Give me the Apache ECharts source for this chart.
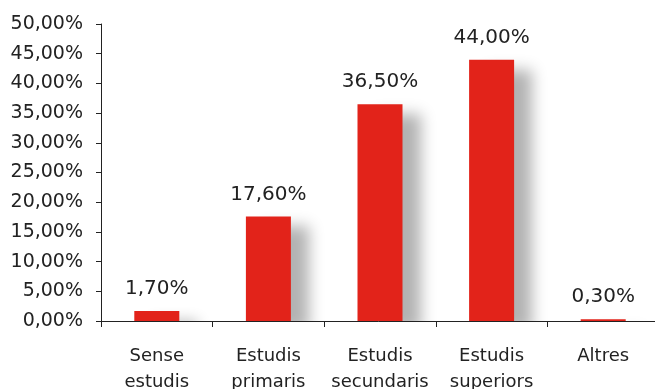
<!DOCTYPE html>
<html>
<head>
<meta charset="utf-8">
<script src="https://cdn.jsdelivr.net/npm/echarts@6/dist/echarts.min.js"></script>
<style>
  html, body { margin: 0; padding: 0; background: #fff; overflow: hidden; }
  #chart { width: 655px; height: 389px; }
</style>
</head>
<body>
<div id="chart"></div>
<script>
// Education level shares
const categories = ['Sense\nestudis', 'Estudis\nprimaris', 'Estudis\nsecundaris', 'Estudis\nsuperiors', 'Altres'];
const values = [1.7, 17.6, 36.5, 44.0, 0.3];
const yMin = 0, yMax = 50, yStep = 5;

const fmt = v => v.toFixed(2).replace('.', ',') + '%';
const font = '"DejaVu Sans", "Noto Sans", sans-serif';

const W = 655, H = 389;
const gridTop = 24, gridBottom = 68;

const chart = echarts.init(document.getElementById('chart'), null, { renderer: 'canvas' });
chart.setOption({
  animation: false,
  backgroundColor: '#ffffff',
  grid: {
    left: 101, right: -4, top: gridTop, bottom: gridBottom,
    containLabel: false,
    outerBoundsMode: 'none'
  },
  // white band under the baseline so bar shadows stop at the axis
  graphic: [{
    type: 'rect',
    z: 3,
    silent: true,
    shape: { x: 0, y: H - gridBottom + 1, width: W, height: gridBottom },
    style: { fill: '#ffffff' }
  }],
  xAxis: {
    type: 'category',
    data: categories,
    boundaryGap: true,
    z: 5,
    axisLine: { lineStyle: { color: '#222', width: 1 } },
    axisTick: { show: true, length: 6, lineStyle: { color: '#222' } },
    axisLabel: { color: '#222', fontFamily: font, fontSize: 18, lineHeight: 26, margin: 22, interval: 0 }
  },
  yAxis: {
    type: 'value',
    min: yMin, max: yMax, interval: yStep,
    z: 5,
    axisLine: { show: true, lineStyle: { color: '#222', width: 1 } },
    axisTick: { show: true, length: 5, lineStyle: { color: '#222' } },
    splitLine: { show: false },
    axisLabel: { color: '#222', fontFamily: font, fontSize: 19, margin: 18, formatter: fmt }
  },
  series: [{
    type: 'bar',
    data: values,
    barWidth: 45,
    z: 2,
    itemStyle: {
      color: '#e2231a',
      shadowColor: 'rgba(0,0,0,0.3)',
      shadowBlur: 14,
      shadowOffsetX: 18,
      shadowOffsetY: 10
    },
    label: {
      show: true,
      position: 'top',
      distance: 12,
      color: '#222',
      fontFamily: font,
      fontSize: 20,
      formatter: p => fmt(p.value)
    }
  }]
});
</script>
</body>
</html>
